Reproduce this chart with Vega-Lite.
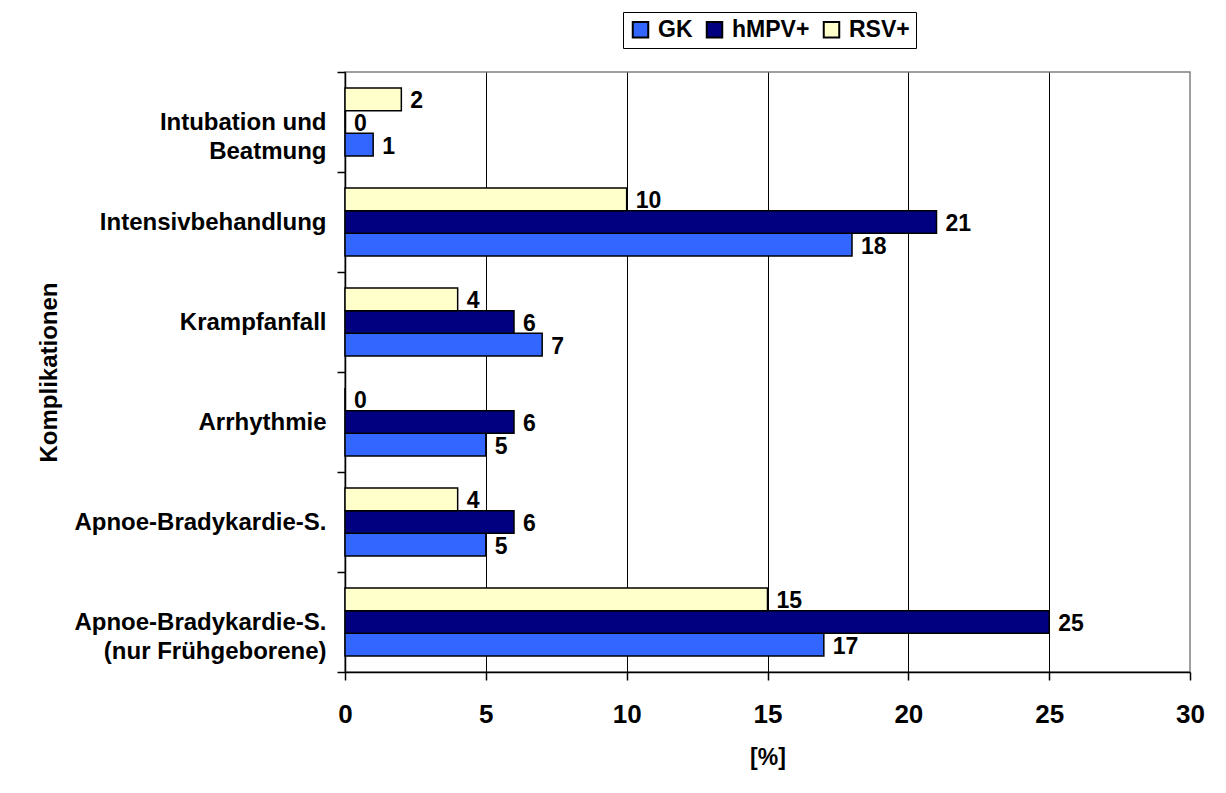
{
  "$schema": "https://vega.github.io/schema/vega-lite/v6.json",
  "width": 845,
  "height": 600,
  "autosize": {"type": "none"},
  "padding": {"left": 345, "top": 72, "right": 36, "bottom": 121},
  "background": "white",
  "config": {
    "font": "Liberation Sans",
    "view": {"stroke": "#808080", "strokeWidth": 1.5},
    "axis": {
      "labelFont": "Liberation Sans",
      "titleFont": "Liberation Sans",
      "labelFontWeight": "bold",
      "titleFontWeight": "bold",
      "labelColor": "black",
      "titleColor": "black",
      "domainColor": "black",
      "domainWidth": 1.5,
      "tickColor": "black",
      "tickWidth": 1.5
    }
  },
  "data": {
    "values": [
      {"Komplikation": "Intubation und Beatmung", "Gruppe": "GK", "Prozent": 1},
      {"Komplikation": "Intubation und Beatmung", "Gruppe": "hMPV+", "Prozent": 0},
      {"Komplikation": "Intubation und Beatmung", "Gruppe": "RSV+", "Prozent": 2},
      {"Komplikation": "Intensivbehandlung", "Gruppe": "GK", "Prozent": 18},
      {"Komplikation": "Intensivbehandlung", "Gruppe": "hMPV+", "Prozent": 21},
      {"Komplikation": "Intensivbehandlung", "Gruppe": "RSV+", "Prozent": 10},
      {"Komplikation": "Krampfanfall", "Gruppe": "GK", "Prozent": 7},
      {"Komplikation": "Krampfanfall", "Gruppe": "hMPV+", "Prozent": 6},
      {"Komplikation": "Krampfanfall", "Gruppe": "RSV+", "Prozent": 4},
      {"Komplikation": "Arrhythmie", "Gruppe": "GK", "Prozent": 5},
      {"Komplikation": "Arrhythmie", "Gruppe": "hMPV+", "Prozent": 6},
      {"Komplikation": "Arrhythmie", "Gruppe": "RSV+", "Prozent": 0},
      {"Komplikation": "Apnoe-Bradykardie-S.", "Gruppe": "GK", "Prozent": 5},
      {"Komplikation": "Apnoe-Bradykardie-S.", "Gruppe": "hMPV+", "Prozent": 6},
      {"Komplikation": "Apnoe-Bradykardie-S.", "Gruppe": "RSV+", "Prozent": 4},
      {"Komplikation": "Apnoe-Bradykardie-S. (nur Frühgeborene)", "Gruppe": "GK", "Prozent": 17},
      {"Komplikation": "Apnoe-Bradykardie-S. (nur Frühgeborene)", "Gruppe": "hMPV+", "Prozent": 25},
      {"Komplikation": "Apnoe-Bradykardie-S. (nur Frühgeborene)", "Gruppe": "RSV+", "Prozent": 15}
    ]
  },
  "encoding": {
    "y": {
      "field": "Komplikation",
      "type": "nominal",
      "sort": [
        "Intubation und Beatmung",
        "Intensivbehandlung",
        "Krampfanfall",
        "Arrhythmie",
        "Apnoe-Bradykardie-S.",
        "Apnoe-Bradykardie-S. (nur Frühgeborene)"
      ],
      "scale": {"paddingInner": 0, "paddingOuter": 0},
      "axis": {
        "title": "Komplikationen",
        "titleFontSize": 24,
        "titlePadding": 84,
        "labelFontSize": 24,
        "labelPadding": 11,
        "labelLimit": 400,
        "labelLineHeight": 29,
        "tickSize": 8,
        "tickBand": "extent",
        "grid": false,
        "labelExpr": "datum.value == 'Intubation und Beatmung' ? ['Intubation und', 'Beatmung'] : datum.value == 'Apnoe-Bradykardie-S. (nur Frühgeborene)' ? ['Apnoe-Bradykardie-S.', '(nur Frühgeborene)'] : datum.label",
        "encode": {
          "labels": {
            "update": {
              "align": {"signal": "datum.value == 'Intubation und Beatmung' || datum.value == 'Apnoe-Bradykardie-S. (nur Frühgeborene)' ? 'center' : 'right'"},
              "dx": {"signal": "datum.value == 'Intubation und Beatmung' ? -83 : datum.value == 'Apnoe-Bradykardie-S. (nur Frühgeborene)' ? -126 : 0"}
            }
          }
        }
      }
    },
    "yOffset": {
      "field": "Gruppe",
      "type": "nominal",
      "sort": ["RSV+", "hMPV+", "GK"],
      "scale": {"paddingInner": 0, "paddingOuter": 0.706}
    },
    "x": {
      "field": "Prozent",
      "type": "quantitative",
      "scale": {"domain": [0, 30], "nice": false},
      "axis": {
        "title": "[%]",
        "titleFontSize": 23,
        "titlePadding": 19,
        "values": [0, 5, 10, 15, 20, 25, 30],
        "labelFontSize": 26,
        "labelPadding": 21,
        "labelFlush": false,
        "tickSize": 8,
        "grid": true,
        "gridColor": {"condition": {"test": "datum.value == 0 || datum.value == 30", "value": "transparent"}, "value": "black"},
        "gridWidth": 1
      }
    }
  },
  "layer": [
    {
      "mark": {"type": "bar", "stroke": "black", "strokeWidth": 1.5},
      "encoding": {
        "color": {
          "field": "Gruppe",
          "type": "nominal",
          "scale": {"domain": ["GK", "hMPV+", "RSV+"], "range": ["#3366FF", "#000080", "#FFFFCC"]},
          "legend": {
            "title": null,
            "orient": "none",
            "legendX": 278,
            "legendY": -60,
            "direction": "horizontal",
            "symbolType": "square",
            "symbolSize": 240,
            "symbolStrokeColor": "black",
            "symbolStrokeWidth": 2,
            "symbolOpacity": 1,
            "labelFont": "Liberation Sans",
            "labelFontSize": 23,
            "labelFontWeight": "bold",
            "labelColor": "black",
            "labelOffset": 6,
            "columnPadding": 9,
            "padding": 6,
            "strokeColor": "black",
            "fillColor": "white"
          }
        }
      }
    },
    {
      "mark": {"type": "text", "align": "left", "baseline": "middle", "dx": 9, "dy": 2, "fontSize": 23, "fontWeight": "bold", "font": "Liberation Sans", "color": "black"},
      "encoding": {"text": {"field": "Prozent", "type": "quantitative"}}
    }
  ]
}
